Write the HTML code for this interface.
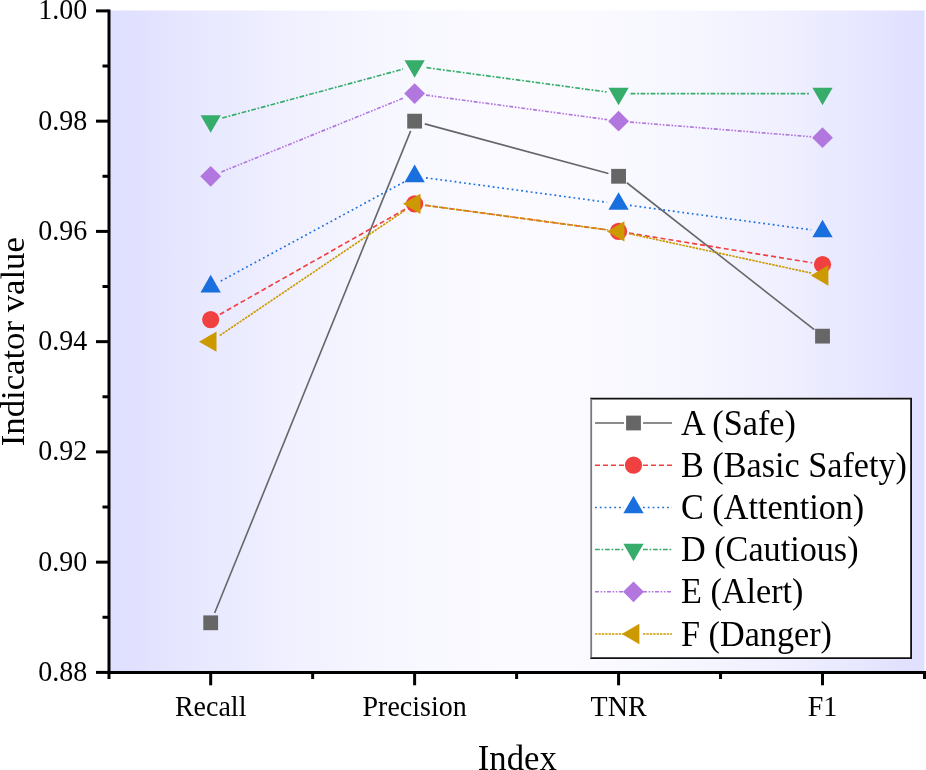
<!DOCTYPE html>
<html><head><meta charset="utf-8"><style>
html,body{margin:0;padding:0;background:#fff;}
svg{display:block;will-change:transform;}
text{font-family:"Liberation Serif",serif;fill:#000;}

</style></head><body>
<svg width="926" height="770" viewBox="0 0 926 770">
<defs>
<linearGradient id="bg" gradientUnits="userSpaceOnUse" x1="110.3" y1="0" x2="924.5" y2="0">
<stop offset="0.0000" stop-color="rgb(223,223,255)"/>
<stop offset="0.0230" stop-color="rgb(224,224,255)"/>
<stop offset="0.0549" stop-color="rgb(227,227,255)"/>
<stop offset="0.1139" stop-color="rgb(232,232,255)"/>
<stop offset="0.1679" stop-color="rgb(236,236,255)"/>
<stop offset="0.2305" stop-color="rgb(241,241,255)"/>
<stop offset="0.3042" stop-color="rgb(245,245,255)"/>
<stop offset="0.3472" stop-color="rgb(247,247,255)"/>
<stop offset="0.4320" stop-color="rgb(249,249,255)"/>
<stop offset="0.4811" stop-color="rgb(250,250,255)"/>
<stop offset="0.5241" stop-color="rgb(251,251,255)"/>
<stop offset="0.5658" stop-color="rgb(250,250,255)"/>
<stop offset="0.6530" stop-color="rgb(248,248,255)"/>
<stop offset="0.7157" stop-color="rgb(246,246,255)"/>
<stop offset="0.7845" stop-color="rgb(242,242,255)"/>
<stop offset="0.8471" stop-color="rgb(238,238,255)"/>
<stop offset="0.8753" stop-color="rgb(235,235,255)"/>
<stop offset="0.9417" stop-color="rgb(229,229,255)"/>
<stop offset="0.9871" stop-color="rgb(224,224,255)"/>
<stop offset="1.0000" stop-color="rgb(223,223,255)"/>
</linearGradient>
</defs>
<rect x="108.70" y="10.50" width="815.80" height="661.90" fill="url(#bg)"/>

<line x1="214.63" y1="613.06" x2="410.67" y2="130.88" stroke="#666666" stroke-width="1.6"/>
<line x1="424.76" y1="123.89" x2="608.44" y2="173.54" stroke="#666666" stroke-width="1.6"/>
<line x1="626.84" y1="182.75" x2="814.26" y2="329.66" stroke="#666666" stroke-width="1.6"/>
<line x1="219.81" y1="314.42" x2="405.49" y2="209.02" stroke="#F14040" stroke-width="1.65" stroke-dasharray="5 3"/>
<line x1="425.03" y1="205.24" x2="608.17" y2="229.99" stroke="#F14040" stroke-width="1.65" stroke-dasharray="5 3"/>
<line x1="628.94" y1="233.08" x2="812.16" y2="262.79" stroke="#F14040" stroke-width="1.65" stroke-dasharray="5 3"/>
<line x1="220.79" y1="281.06" x2="404.51" y2="181.74" stroke="#1A6FDF" stroke-width="1.65" stroke-dasharray="1.8 3"/>
<line x1="426.02" y1="177.82" x2="607.18" y2="202.30" stroke="#1A6FDF" stroke-width="1.65" stroke-dasharray="1.8 3"/>
<line x1="629.97" y1="205.38" x2="811.13" y2="229.86" stroke="#1A6FDF" stroke-width="1.65" stroke-dasharray="1.8 3"/>
<line x1="222.26" y1="118.02" x2="403.04" y2="69.16" stroke="#37AD6B" stroke-width="1.65" stroke-dasharray="4.8 1.7 1.8 1.7"/>
<line x1="426.52" y1="67.63" x2="606.68" y2="91.98" stroke="#37AD6B" stroke-width="1.65" stroke-dasharray="4.8 1.7 1.8 1.7"/>
<line x1="630.58" y1="93.59" x2="810.52" y2="93.59" stroke="#37AD6B" stroke-width="1.65" stroke-dasharray="4.8 1.7 1.8 1.7"/>
<line x1="221.33" y1="171.95" x2="403.97" y2="97.91" stroke="#B177DE" stroke-width="1.65" stroke-dasharray="4 1.6 1.6 1.6 1.6 1.6"/>
<line x1="426.02" y1="95.13" x2="607.18" y2="119.61" stroke="#B177DE" stroke-width="1.65" stroke-dasharray="4 1.6 1.6 1.6 1.6 1.6"/>
<line x1="630.04" y1="122.08" x2="811.06" y2="136.76" stroke="#B177DE" stroke-width="1.65" stroke-dasharray="4 1.6 1.6 1.6 1.6 1.6"/>
<line x1="219.79" y1="335.49" x2="405.51" y2="210.00" stroke="#CC9900" stroke-width="1.65" stroke-dasharray="2.4 1"/>
<line x1="425.53" y1="205.31" x2="607.67" y2="229.93" stroke="#CC9900" stroke-width="1.65" stroke-dasharray="2.4 1"/>
<line x1="629.33" y1="233.72" x2="811.77" y2="273.18" stroke="#CC9900" stroke-width="1.65" stroke-dasharray="2.4 1"/>
<rect x="203.28" y="615.39" width="14.8" height="14.8" fill="#666666"/>
<rect x="407.22" y="113.75" width="14.8" height="14.8" fill="#666666"/>
<rect x="611.18" y="168.88" width="14.8" height="14.8" fill="#666666"/>
<rect x="815.12" y="328.74" width="14.8" height="14.8" fill="#666666"/>
<circle cx="210.68" cy="319.60" r="8.6" fill="#F14040"/>
<circle cx="414.62" cy="203.84" r="8.6" fill="#F14040"/>
<circle cx="618.58" cy="231.40" r="8.6" fill="#F14040"/>
<circle cx="822.52" cy="264.48" r="8.6" fill="#F14040"/>
<polygon points="210.68,274.83 220.81,292.38 200.54,292.38" fill="#1A6FDF"/>
<polygon points="414.62,164.58 424.76,182.13 404.49,182.13" fill="#1A6FDF"/>
<polygon points="618.58,192.14 628.71,209.69 608.44,209.69" fill="#1A6FDF"/>
<polygon points="822.52,219.70 832.66,237.25 812.39,237.25" fill="#1A6FDF"/>
<polygon points="210.68,132.85 200.54,115.30 220.81,115.30" fill="#37AD6B"/>
<polygon points="414.62,77.72 404.49,60.17 424.76,60.17" fill="#37AD6B"/>
<polygon points="618.58,105.29 608.44,87.74 628.71,87.74" fill="#37AD6B"/>
<polygon points="822.52,105.29 812.39,87.74 832.66,87.74" fill="#37AD6B"/>
<polygon points="210.68,165.88 221.08,176.28 210.68,186.68 200.28,176.28" fill="#B177DE"/>
<polygon points="414.62,83.19 425.02,93.59 414.62,103.99 404.22,93.59" fill="#B177DE"/>
<polygon points="618.58,110.75 628.98,121.15 618.58,131.55 608.18,121.15" fill="#B177DE"/>
<polygon points="822.52,127.29 832.92,137.69 822.52,148.09 812.12,137.69" fill="#B177DE"/>
<polygon points="198.98,341.65 216.53,331.52 216.53,351.78" fill="#CC9900"/>
<polygon points="402.92,203.84 420.47,193.71 420.47,213.97" fill="#CC9900"/>
<polygon points="606.88,231.40 624.43,221.27 624.43,241.53" fill="#CC9900"/>
<polygon points="810.82,275.50 828.38,265.37 828.38,285.63" fill="#CC9900"/>
<line x1="109.0" y1="9.40" x2="109.0" y2="678.90" stroke="#000" stroke-width="3.0"/>
<line x1="107.30" y1="672.40" x2="928" y2="672.40" stroke="#000" stroke-width="3.0"/>
<line x1="96" y1="672.40" x2="108.70" y2="672.40" stroke="#000" stroke-width="3.0"/>
<text transform="translate(87.3,680.90) scale(1,1.03)" font-size="28" text-anchor="end">0.88</text>
<line x1="96" y1="562.15" x2="108.70" y2="562.15" stroke="#000" stroke-width="3.0"/>
<text transform="translate(87.3,570.65) scale(1,1.03)" font-size="28" text-anchor="end">0.90</text>
<line x1="96" y1="451.90" x2="108.70" y2="451.90" stroke="#000" stroke-width="3.0"/>
<text transform="translate(87.3,460.40) scale(1,1.03)" font-size="28" text-anchor="end">0.92</text>
<line x1="96" y1="341.65" x2="108.70" y2="341.65" stroke="#000" stroke-width="3.0"/>
<text transform="translate(87.3,350.15) scale(1,1.03)" font-size="28" text-anchor="end">0.94</text>
<line x1="96" y1="231.40" x2="108.70" y2="231.40" stroke="#000" stroke-width="3.0"/>
<text transform="translate(87.3,239.90) scale(1,1.03)" font-size="28" text-anchor="end">0.96</text>
<line x1="96" y1="121.15" x2="108.70" y2="121.15" stroke="#000" stroke-width="3.0"/>
<text transform="translate(87.3,129.65) scale(1,1.03)" font-size="28" text-anchor="end">0.98</text>
<line x1="96" y1="10.90" x2="108.70" y2="10.90" stroke="#000" stroke-width="3.0"/>
<text transform="translate(87.3,19.40) scale(1,1.03)" font-size="28" text-anchor="end">1.00</text>
<line x1="102.5" y1="617.27" x2="108.70" y2="617.27" stroke="#000" stroke-width="3.0"/>
<line x1="102.5" y1="507.02" x2="108.70" y2="507.02" stroke="#000" stroke-width="3.0"/>
<line x1="102.5" y1="396.77" x2="108.70" y2="396.77" stroke="#000" stroke-width="3.0"/>
<line x1="102.5" y1="286.53" x2="108.70" y2="286.53" stroke="#000" stroke-width="3.0"/>
<line x1="102.5" y1="176.28" x2="108.70" y2="176.28" stroke="#000" stroke-width="3.0"/>
<line x1="102.5" y1="66.02" x2="108.70" y2="66.02" stroke="#000" stroke-width="3.0"/>
<line x1="210.68" y1="672.40" x2="210.68" y2="685.3" stroke="#000" stroke-width="3.0"/>
<text transform="translate(210.68,715.7) scale(1,1.03)" font-size="28" text-anchor="middle">Recall</text>
<line x1="414.62" y1="672.40" x2="414.62" y2="685.3" stroke="#000" stroke-width="3.0"/>
<text transform="translate(414.62,715.7) scale(1,1.03)" font-size="28" text-anchor="middle">Precision</text>
<line x1="618.58" y1="672.40" x2="618.58" y2="685.3" stroke="#000" stroke-width="3.0"/>
<text transform="translate(618.58,715.7) scale(1,1.03)" font-size="28" text-anchor="middle">TNR</text>
<line x1="822.52" y1="672.40" x2="822.52" y2="685.3" stroke="#000" stroke-width="3.0"/>
<text transform="translate(822.52,715.7) scale(1,1.03)" font-size="28" text-anchor="middle">F1</text>
<line x1="312.65" y1="672.40" x2="312.65" y2="679" stroke="#000" stroke-width="3.0"/>
<line x1="516.60" y1="672.40" x2="516.60" y2="679" stroke="#000" stroke-width="3.0"/>
<line x1="720.55" y1="672.40" x2="720.55" y2="679" stroke="#000" stroke-width="3.0"/>
<line x1="924.50" y1="672.40" x2="924.50" y2="679" stroke="#000" stroke-width="3.0"/>
<text transform="translate(517.3,770.0) scale(1,1.01)" font-size="34.7" text-anchor="middle">Index</text>
<text transform="translate(23.8,341.7) rotate(-90)" font-size="34.7" text-anchor="middle">Indicator value</text>
<rect x="590.30" y="397.80" width="321.70" height="261.20" fill="#fff"/>
<path d="M590.30,398.70 H911.10 V658.10 H590.30" fill="none" stroke="#111" stroke-width="1.8"/>
<line x1="591.20" y1="399.60" x2="591.20" y2="657.20" stroke="#7a7a7a" stroke-width="1.8"/>
<line x1="595" y1="423.00" x2="624.00" y2="423.00" stroke="#666666" stroke-width="1.5"/>
<line x1="643.00" y1="423.00" x2="672" y2="423.00" stroke="#666666" stroke-width="1.5"/>
<rect x="626.10" y="415.60" width="14.8" height="14.8" fill="#666666"/>
<text transform="translate(681,434.60) scale(1,1.03)" font-size="34.2">A (Safe)</text>
<line x1="595" y1="465.20" x2="624.00" y2="465.20" stroke="#F14040" stroke-width="1.5" stroke-dasharray="5 3"/>
<line x1="643.00" y1="465.20" x2="672" y2="465.20" stroke="#F14040" stroke-width="1.5" stroke-dasharray="5 3"/>
<circle cx="633.50" cy="465.20" r="8.6" fill="#F14040"/>
<text transform="translate(681,476.80) scale(1,1.03)" font-size="34.2">B (Basic Safety)</text>
<line x1="595" y1="507.40" x2="624.00" y2="507.40" stroke="#1A6FDF" stroke-width="1.5" stroke-dasharray="1.8 3"/>
<line x1="643.00" y1="507.40" x2="672" y2="507.40" stroke="#1A6FDF" stroke-width="1.5" stroke-dasharray="1.8 3"/>
<polygon points="633.50,495.70 643.63,513.25 623.37,513.25" fill="#1A6FDF"/>
<text transform="translate(681,519.00) scale(1,1.03)" font-size="34.2">C (Attention)</text>
<line x1="595" y1="549.60" x2="624.00" y2="549.60" stroke="#37AD6B" stroke-width="1.5" stroke-dasharray="4.8 1.7 1.8 1.7"/>
<line x1="643.00" y1="549.60" x2="672" y2="549.60" stroke="#37AD6B" stroke-width="1.5" stroke-dasharray="4.8 1.7 1.8 1.7"/>
<polygon points="633.50,561.30 623.37,543.75 643.63,543.75" fill="#37AD6B"/>
<text transform="translate(681,561.20) scale(1,1.03)" font-size="34.2">D (Cautious)</text>
<line x1="595" y1="591.80" x2="624.00" y2="591.80" stroke="#B177DE" stroke-width="1.5" stroke-dasharray="4 1.6 1.6 1.6 1.6 1.6"/>
<line x1="643.00" y1="591.80" x2="672" y2="591.80" stroke="#B177DE" stroke-width="1.5" stroke-dasharray="4 1.6 1.6 1.6 1.6 1.6"/>
<polygon points="633.50,581.40 643.90,591.80 633.50,602.20 623.10,591.80" fill="#B177DE"/>
<text transform="translate(681,603.40) scale(1,1.03)" font-size="34.2">E (Alert)</text>
<line x1="595" y1="634.00" x2="624.00" y2="634.00" stroke="#CC9900" stroke-width="1.5" stroke-dasharray="2.4 1"/>
<line x1="643.00" y1="634.00" x2="672" y2="634.00" stroke="#CC9900" stroke-width="1.5" stroke-dasharray="2.4 1"/>
<polygon points="621.80,634.00 639.35,623.87 639.35,644.13" fill="#CC9900"/>
<text transform="translate(681,645.60) scale(1,1.03)" font-size="34.2">F (Danger)</text>
</svg></body></html>
